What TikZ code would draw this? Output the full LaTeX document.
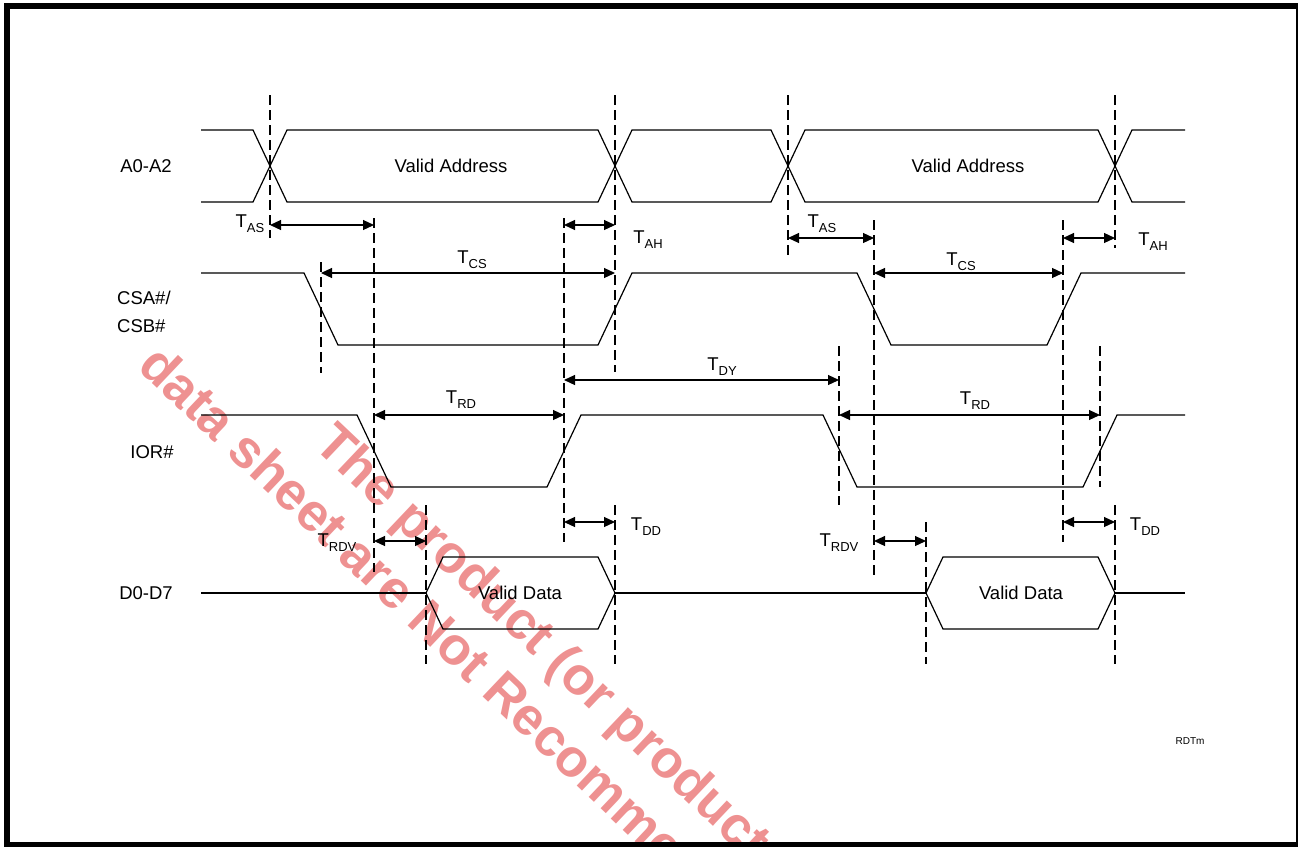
\documentclass[tikz,border=0pt]{standalone}
\usepackage{fontspec}
\setmainfont{Liberation Sans}
\usetikzlibrary{arrows.meta}
\definecolor{wmark}{RGB}{238,145,145}
\newcommand\Tsub[1]{T\raisebox{-5pt}{\fontsize{13}{13}\selectfont #1}}
\begin{document}
\begin{tikzpicture}[x=1pt,y=-1pt,
  wave/.style={line width=1.2pt,line join=miter},
  guide/.style={line width=1.1pt,dash pattern=on 10pt off 5pt},
  dim/.style={line width=1.2pt,{Triangle[length=11pt,width=10pt]}-{Triangle[length=11pt,width=10pt]}},
  sig/.style={font=\fontsize{18.5}{28}\selectfont,inner sep=0pt},
  tlabel/.style={font=\fontsize{18.5}{20}\selectfont,inner sep=0pt},
  wm/.style={font=\fontsize{53}{60}\selectfont\bfseries,text=wmark,inner sep=0pt,rotate=-43.5,anchor=base west},
]
\useasboundingbox (0,0) rectangle (1298,846);
\begin{scope}
\clip (0,0) rectangle (1298,846);
% watermark
\node[wm] (wm1) at (136,368) {data sheet are Not Recomme};
\node[wm] (wm2) at (312,446) {The product (or products};
\end{scope}

% ---------- waveforms ----------
% A0-A2
\draw[wave] (201,130) -- (253,130) -- (287,202) -- (598,202) -- (632,130) -- (771,130) -- (805,202) -- (1098,202) -- (1132,130) -- (1185,130);
\draw[wave] (201,202) -- (253,202) -- (287,130) -- (598,130) -- (632,202) -- (771,202) -- (805,130) -- (1098,130) -- (1132,202) -- (1185,202);
% CSA#/CSB#
\draw[wave] (201,273) -- (304,273) -- (338,345) -- (598,345) -- (632,273) -- (857,273) -- (891,345) -- (1047,345) -- (1081,273) -- (1185,273);
% IOR#
\draw[wave] (201,415) -- (357,415) -- (391,487) -- (547,487) -- (581,415) -- (823,415) -- (857,487) -- (1083,487) -- (1117,415) -- (1185,415);
% D0-D7
\draw[wave] (201,593) -- (426,593);
\draw[wave] (426,593) -- (443,557) -- (598,557) -- (615,593) -- (598,629) -- (443,629) -- cycle;
\draw[wave] (615,593) -- (926,593);
\draw[wave] (926,593) -- (943,557) -- (1098,557) -- (1115,593) -- (1098,629) -- (943,629) -- cycle;
\draw[wave] (1115,593) -- (1185,593);

% ---------- guide lines ----------
\coordinate (g1t) at (270,95);   \coordinate (g1b) at (270,238);
\coordinate (g2t) at (374,218);  \coordinate (g2b) at (374,572);
\coordinate (g3t) at (321,262);  \coordinate (g3b) at (321,373);
\coordinate (g4t) at (564,218);  \coordinate (g4b) at (564,542);
\coordinate (g5t) at (615,95);   \coordinate (g5b) at (615,372);
\coordinate (g5u) at (615,505);  \coordinate (g5v) at (615,664);
\coordinate (g6t) at (426,505);  \coordinate (g6b) at (426,664);
\coordinate (g7t) at (788,95);   \coordinate (g7b) at (788,255);
\coordinate (g8t) at (874,220);  \coordinate (g8b) at (874,578);
\coordinate (g9t) at (839,346);  \coordinate (g9b) at (839,505);
\coordinate (g10t) at (1063,220); \coordinate (g10b) at (1063,542);
\coordinate (g11t) at (1115,95);  \coordinate (g11b) at (1115,248);
\coordinate (g11u) at (1115,505); \coordinate (g11v) at (1115,664);
\coordinate (g12t) at (1100,346); \coordinate (g12b) at (1100,487);
\coordinate (g13t) at (926,522);  \coordinate (g13b) at (926,664);
\foreach \g in {g1,g2,g3,g4,g5,g6,g7,g8,g9,g10,g11,g12,g13}
  \draw[guide] (\g t) -- (\g b);
\draw[guide] (g5u) -- (g5v);
\draw[guide] (g11u) -- (g11v);

% ---------- dimension arrows ----------
\coordinate (as1a) at (270,225);  \coordinate (as1b) at (374,225);
\coordinate (ah1a) at (564,225);  \coordinate (ah1b) at (615,225);
\coordinate (as2a) at (788,238);  \coordinate (as2b) at (874,238);
\coordinate (ah2a) at (1063,238); \coordinate (ah2b) at (1115,238);
\coordinate (cs1a) at (321,273);  \coordinate (cs1b) at (615,273);
\coordinate (cs2a) at (874,273);  \coordinate (cs2b) at (1063,273);
\coordinate (dya) at (564,380);   \coordinate (dyb) at (839,380);
\coordinate (rd1a) at (374,415);  \coordinate (rd1b) at (564,415);
\coordinate (rd2a) at (839,415);  \coordinate (rd2b) at (1100,415);
\coordinate (dd1a) at (564,522);  \coordinate (dd1b) at (615,522);
\coordinate (dd2a) at (1063,522); \coordinate (dd2b) at (1115,522);
\coordinate (rv1a) at (374,541);  \coordinate (rv1b) at (426,541);
\coordinate (rv2a) at (874,541);  \coordinate (rv2b) at (926,541);
\foreach \d in {as1,ah1,as2,ah2,cs1,cs2,dy,rd1,rd2,dd1,dd2,rv1,rv2}
  \draw[dim] (\d a) -- (\d b);

% ---------- timing labels ----------
\node[tlabel] (tas1) at (250,224) {\Tsub{AS}};
\node[tlabel] (tah1) at (648,240) {\Tsub{AH}};
\node[tlabel] (tas2) at (822,224) {\Tsub{AS}};
\node[tlabel] (tah2) at (1153,242) {\Tsub{AH}};
\node[tlabel] (tcs1) at (472,260) {\Tsub{CS}};
\node[tlabel] (tcs2) at (961,262) {\Tsub{CS}};
\node[tlabel] (tdy) at (722,367) {\Tsub{DY}};
\node[tlabel] (trd1) at (461,400) {\Tsub{RD}};
\node[tlabel] (trd2) at (975,401) {\Tsub{RD}};
\node[tlabel] (tdd1) at (646,527) {\Tsub{DD}};
\node[tlabel] (tdd2) at (1145,527) {\Tsub{DD}};
\node[tlabel] (trv1) at (337,543) {\Tsub{RDV}};
\node[tlabel] (trv2) at (839,543) {\Tsub{RDV}};

% ---------- texts ----------
\node[sig] (va1) at (451,166) {Valid Address};
\node[sig] (va2) at (968,166) {Valid Address};
\node[sig] (vd1) at (520,593) {Valid Data};
\node[sig] (vd2) at (1021,593) {Valid Data};
\node[sig] (la) at (146,166) {A0-A2};
\node[sig,anchor=west,align=left] (lcs) at (117,312) {CSA\#/\\CSB\#};
\node[sig] (lior) at (152,452) {IOR\#};
\node[sig] (ld) at (146,593) {D0-D7};
\node[font=\fontsize{10}{12}\selectfont,inner sep=0pt] (rdtm) at (1190,741) {RDTm};

% frame
\draw[line width=6pt] (7,6) rectangle (1298.7,844.5);
\end{tikzpicture}
\end{document}
